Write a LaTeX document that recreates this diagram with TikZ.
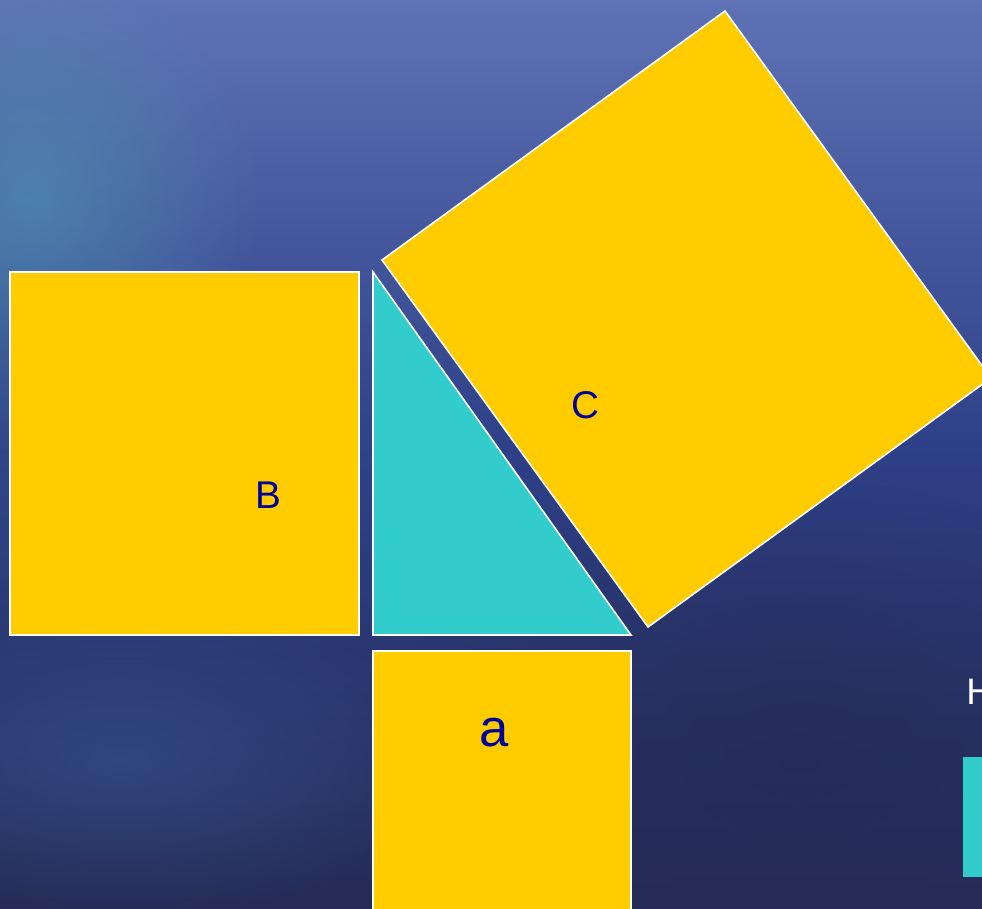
\documentclass[tikz,border=0pt]{standalone}
\usepackage{fontspec}
\setmainfont{Liberation Sans}
\usetikzlibrary{calc}
\usetikzlibrary{fadings}
\definecolor[named]{SeaTop}{HTML}{5F72B5}
\definecolor[named]{SeaMid}{HTML}{2D3F86}
\definecolor[named]{SeaLow}{HTML}{262B55}
\definecolor[named]{SeaGlow}{HTML}{4E93B2}
\definecolor[named]{PyYellow}{HTML}{FFCC00}
\definecolor[named]{PyTeal}{HTML}{33CCCC}
\definecolor[named]{PyInk}{HTML}{000099}
\tikzfading[name=sea fade,inner color=transparent!0,outer color=transparent!100]
\newcommand{\drawsq}{%
  \draw[white,line width=0.9pt,fill=PyYellow]
}
\tikzset{
  sqlabel/.style={text=PyInk,inner sep=0pt,font=\fontsize{22}{26}\selectfont},
}

\begin{document}
\begin{tikzpicture}[x=0.02cm,y=-0.02cm]
  \useasboundingbox (0,0) rectangle (982,908);
  \clip (0,0) rectangle (982,908);

  % Sea {{{
  \shade[top color=SeaTop,bottom color=SeaLow,middle color=SeaMid]
    (0,0) rectangle (982,908);
  \fill[SeaGlow,path fading=sea fade,opacity=0.65] (30,200) ellipse (230 and 260);
  \fill[SeaMid!75!SeaGlow,path fading=sea fade,opacity=0.5] (140,470) ellipse (330 and 200);
  \fill[SeaMid!70!SeaGlow,path fading=sea fade,opacity=0.55] (120,760) ellipse (340 and 160);
  \fill[SeaLow,path fading=sea fade,opacity=0.7] (800,760) ellipse (420 and 280);
  % }}}

  % Squares and triangle {{{
  \coordinate (T1) at (373,272);
  \coordinate (T2) at (373,635);
  \coordinate (T3) at (631,635);
  \coordinate (C1) at (382,260);
  \coordinate (C2) at (725,11);
  \coordinate (C3) at (991,378);
  \coordinate (C4) at (648,627);

  \drawsq (10,272) rectangle (359,635);
  \drawsq (373,651) rectangle (631,920);
  \drawsq (C1) -- (C2) -- (C3) -- (C4) -- cycle;
  \draw[white,line width=0.9pt,fill=PyTeal] (T1) -- (T2) -- (T3) -- cycle;

  \node[sqlabel] (labB) at (268,495) {B};
  \node[sqlabel] (labC) at (585,405) {C};
  \node[sqlabel,font=\fontsize{30}{35}\selectfont] (laba) at (494,733) {a};
  % }}}

  % Right edge {{{
  \node[white,anchor=west,inner sep=0pt,font=\fontsize{21}{25}\selectfont]
    (labH) at (966,692) {H};
  \fill[PyTeal] (963,757) rectangle (1000,877);
  % }}}
\end{tikzpicture}
\end{document}
